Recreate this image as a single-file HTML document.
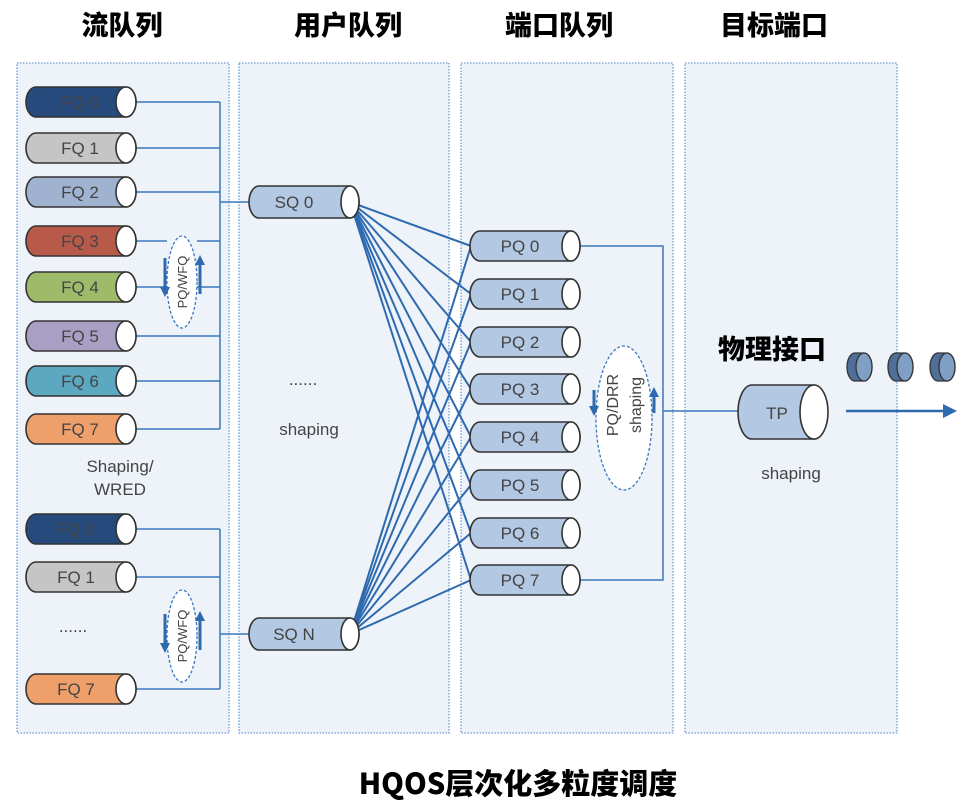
<!DOCTYPE html>
<html><head><meta charset="utf-8"><style>
html,body{margin:0;padding:0;background:#fff;}
svg{display:block;}
text{font-family:"Liberation Sans","Noto Sans CJK SC",sans-serif;}
.t{font-size:17px;fill:#444;text-anchor:middle;}
.h{font-size:27px;font-weight:900;fill:#000;text-anchor:middle;font-family:"Noto Sans CJK SC","WenQuanYi Zen Hei",sans-serif;}
.cy{stroke:#333;stroke-width:1.6;}
.cap{fill:#fff;stroke:#333;stroke-width:1.6;}
.ln{stroke:#3a78bd;stroke-width:1.5;fill:none;}
.bl{stroke:#2f6aae;stroke-width:3;fill:none;}
</style></head><body>
<svg width="980" height="808" viewBox="0 0 980 808" xmlns="http://www.w3.org/2000/svg">
<defs>
<marker id="ar" markerWidth="10" markerHeight="10" refX="7" refY="5" orient="auto" markerUnits="userSpaceOnUse"><path d="M0,0 L10,5 L0,10 Z" fill="#2f6aae"/></marker>
<marker id="ar2" markerWidth="14" markerHeight="14" refX="12" refY="7" orient="auto" markerUnits="userSpaceOnUse"><path d="M0,0 L14,7 L0,14 Z" fill="#2f6aae"/></marker>
</defs>
<text class="h" x="122" y="35">流队列</text>
<text class="h" x="348" y="35">用户队列</text>
<text class="h" x="559" y="35">端口队列</text>
<text class="h" x="774" y="35">目标端口</text>
<g fill="#eef2f9" stroke="#6b9bd0" stroke-width="1.3" stroke-dasharray="1.5,1.5">
<rect x="17" y="63" width="212" height="670"/>
<rect x="239" y="63" width="210" height="670"/>
<rect x="461" y="63" width="212" height="670"/>
<rect x="685" y="63" width="212" height="670"/>
</g>
<g class="ln">
<path d="M126,102H220M126,148H220M126,192H220M126,241H167M197,241H220M126,287H220M126,336H220M126,381H220M126,429H220M220,102V429M220,202H250"/>
<path d="M126,529H220M126,577H220M126,689H220M220,529V689M220,634H250"/>
</g>
<g>
<path class="cy" fill="#274a7d" d="M36,87H126A10,15 0 0 1 126,117H36A10,15 0 0 1 36,87Z"/><ellipse class="cap" cx="126" cy="102" rx="10" ry="15"/><text class="t" x="80" y="108">FQ 0</text>
<path class="cy" fill="#c5c5c5" d="M36,133H126A10,15 0 0 1 126,163H36A10,15 0 0 1 36,133Z"/><ellipse class="cap" cx="126" cy="148" rx="10" ry="15"/><text class="t" x="80" y="154">FQ 1</text>
<path class="cy" fill="#9fb3d1" d="M36,177H126A10,15 0 0 1 126,207H36A10,15 0 0 1 36,177Z"/><ellipse class="cap" cx="126" cy="192" rx="10" ry="15"/><text class="t" x="80" y="198">FQ 2</text>
<path class="cy" fill="#b85a4a" d="M36,226H126A10,15 0 0 1 126,256H36A10,15 0 0 1 36,226Z"/><ellipse class="cap" cx="126" cy="241" rx="10" ry="15"/><text class="t" x="80" y="247">FQ 3</text>
<path class="cy" fill="#9ebb6a" d="M36,272H126A10,15 0 0 1 126,302H36A10,15 0 0 1 36,272Z"/><ellipse class="cap" cx="126" cy="287" rx="10" ry="15"/><text class="t" x="80" y="293">FQ 4</text>
<path class="cy" fill="#a99ec4" d="M36,321H126A10,15 0 0 1 126,351H36A10,15 0 0 1 36,321Z"/><ellipse class="cap" cx="126" cy="336" rx="10" ry="15"/><text class="t" x="80" y="342">FQ 5</text>
<path class="cy" fill="#5ca8c1" d="M36,366H126A10,15 0 0 1 126,396H36A10,15 0 0 1 36,366Z"/><ellipse class="cap" cx="126" cy="381" rx="10" ry="15"/><text class="t" x="80" y="387">FQ 6</text>
<path class="cy" fill="#efa06a" d="M36,414H126A10,15 0 0 1 126,444H36A10,15 0 0 1 36,414Z"/><ellipse class="cap" cx="126" cy="429" rx="10" ry="15"/><text class="t" x="80" y="435">FQ 7</text>
<path class="cy" fill="#274a7d" d="M36,514H126A10,15 0 0 1 126,544H36A10,15 0 0 1 36,514Z"/><ellipse class="cap" cx="126" cy="529" rx="10" ry="15"/><text class="t" x="76" y="535">FQ 0</text>
<path class="cy" fill="#c5c5c5" d="M36,562H126A10,15 0 0 1 126,592H36A10,15 0 0 1 36,562Z"/><ellipse class="cap" cx="126" cy="577" rx="10" ry="15"/><text class="t" x="76" y="583">FQ 1</text>
<path class="cy" fill="#efa06a" d="M36,674H126A10,15 0 0 1 126,704H36A10,15 0 0 1 36,674Z"/><ellipse class="cap" cx="126" cy="689" rx="10" ry="15"/><text class="t" x="76" y="695">FQ 7</text>
</g>
<text class="t" x="120" y="472">Shaping/</text>
<text class="t" x="120" y="495">WRED</text>
<text class="t" x="73" y="632">......</text>
<ellipse cx="182" cy="282" rx="15" ry="46" fill="#fff" stroke="#3a78bd" stroke-width="1.3" stroke-dasharray="3,2"/>
<text transform="translate(187,282) rotate(-90)" style="font-size:13px;fill:#444;text-anchor:middle">PQ/WFQ</text>
<path class="bl" d="M165,258V294" marker-end="url(#ar)"/>
<path class="bl" d="M200,294V258" marker-end="url(#ar)"/>
<ellipse cx="182" cy="636" rx="15" ry="46" fill="#fff" stroke="#3a78bd" stroke-width="1.3" stroke-dasharray="3,2"/>
<text transform="translate(187,636) rotate(-90)" style="font-size:13px;fill:#444;text-anchor:middle">PQ/WFQ</text>
<path class="bl" d="M165,614V650" marker-end="url(#ar)"/>
<path class="bl" d="M200,650V614" marker-end="url(#ar)"/>
<g stroke="#2f6aae" stroke-width="2">
<line x1="350" y1="202" x2="471" y2="246"/><line x1="350" y1="202" x2="471" y2="294"/><line x1="350" y1="202" x2="471" y2="342"/><line x1="350" y1="202" x2="471" y2="389"/><line x1="350" y1="202" x2="471" y2="437"/><line x1="350" y1="202" x2="471" y2="485"/><line x1="350" y1="202" x2="471" y2="533"/><line x1="350" y1="202" x2="471" y2="580"/>
<line x1="350" y1="634" x2="471" y2="246"/><line x1="350" y1="634" x2="471" y2="294"/><line x1="350" y1="634" x2="471" y2="342"/><line x1="350" y1="634" x2="471" y2="389"/><line x1="350" y1="634" x2="471" y2="437"/><line x1="350" y1="634" x2="471" y2="485"/><line x1="350" y1="634" x2="471" y2="533"/><line x1="350" y1="634" x2="471" y2="580"/>
</g>
<path class="cy" fill="#b3c8e3" d="M259,186H350A9,16 0 0 1 350,218H259A10,16 0 0 1 259,186Z"/><ellipse class="cap" cx="350" cy="202" rx="9" ry="16"/><text class="t" x="294" y="208">SQ 0</text>
<path class="cy" fill="#b3c8e3" d="M259,618H350A9,16 0 0 1 350,650H259A10,16 0 0 1 259,618Z"/><ellipse class="cap" cx="350" cy="634" rx="9" ry="16"/><text class="t" x="294" y="640">SQ N</text>
<text class="t" x="303" y="385">......</text>
<text class="t" x="309" y="435">shaping</text>
<g class="ln"><path d="M571,246H663V580H571M663,411H738"/></g>
<g>
<path class="cy" fill="#b3c8e3" d="M480,231H571A9,15 0 0 1 571,261H480A10,15 0 0 1 480,231Z"/><ellipse class="cap" cx="571" cy="246" rx="9" ry="15"/><text class="t" x="520" y="252">PQ 0</text>
<path class="cy" fill="#b3c8e3" d="M480,279H571A9,15 0 0 1 571,309H480A10,15 0 0 1 480,279Z"/><ellipse class="cap" cx="571" cy="294" rx="9" ry="15"/><text class="t" x="520" y="300">PQ 1</text>
<path class="cy" fill="#b3c8e3" d="M480,327H571A9,15 0 0 1 571,357H480A10,15 0 0 1 480,327Z"/><ellipse class="cap" cx="571" cy="342" rx="9" ry="15"/><text class="t" x="520" y="348">PQ 2</text>
<path class="cy" fill="#b3c8e3" d="M480,374H571A9,15 0 0 1 571,404H480A10,15 0 0 1 480,374Z"/><ellipse class="cap" cx="571" cy="389" rx="9" ry="15"/><text class="t" x="520" y="395">PQ 3</text>
<path class="cy" fill="#b3c8e3" d="M480,422H571A9,15 0 0 1 571,452H480A10,15 0 0 1 480,422Z"/><ellipse class="cap" cx="571" cy="437" rx="9" ry="15"/><text class="t" x="520" y="443">PQ 4</text>
<path class="cy" fill="#b3c8e3" d="M480,470H571A9,15 0 0 1 571,500H480A10,15 0 0 1 480,470Z"/><ellipse class="cap" cx="571" cy="485" rx="9" ry="15"/><text class="t" x="520" y="491">PQ 5</text>
<path class="cy" fill="#b3c8e3" d="M480,518H571A9,15 0 0 1 571,548H480A10,15 0 0 1 480,518Z"/><ellipse class="cap" cx="571" cy="533" rx="9" ry="15"/><text class="t" x="520" y="539">PQ 6</text>
<path class="cy" fill="#b3c8e3" d="M480,565H571A9,15 0 0 1 571,595H480A10,15 0 0 1 480,565Z"/><ellipse class="cap" cx="571" cy="580" rx="9" ry="15"/><text class="t" x="520" y="586">PQ 7</text>
</g>
<ellipse cx="624" cy="418" rx="28" ry="72" fill="#fff" stroke="#3a78bd" stroke-width="1.3" stroke-dasharray="3,2"/>
<text transform="translate(618,405) rotate(-90)" style="font-size:16px;fill:#444;text-anchor:middle">PQ/DRR</text>
<text transform="translate(641,405) rotate(-90)" style="font-size:16px;fill:#444;text-anchor:middle">shaping</text>
<path class="bl" d="M594,390V413" marker-end="url(#ar)"/>
<path class="bl" d="M654,413V390" marker-end="url(#ar)"/>
<text class="h" x="772" y="359">物理接口</text>
<path class="cy" fill="#b3c8e3" d="M752,385H814A12,27 0 0 1 814,439H752A14,27 0 0 1 752,385Z"/><ellipse class="cap" cx="814" cy="412" rx="14" ry="27"/><text class="t" x="777" y="419">TP</text>
<text class="t" x="791" y="479">shaping</text>
<path d="M846,411H955" stroke="#2f6aae" stroke-width="2.5" marker-end="url(#ar2)"/>
<g stroke="#333" stroke-width="1.3">
<path fill="#4f6f99" d="M855,353H864A8,14 0 0 1 864,381H855A8,14 0 0 1 855,353Z"/><ellipse fill="#7f9fc4" cx="864" cy="367" rx="8" ry="14"/>
<path fill="#4f6f99" d="M896,353H905A8,14 0 0 1 905,381H896A8,14 0 0 1 896,353Z"/><ellipse fill="#7f9fc4" cx="905" cy="367" rx="8" ry="14"/>
<path fill="#4f6f99" d="M938,353H947A8,14 0 0 1 947,381H938A8,14 0 0 1 938,353Z"/><ellipse fill="#7f9fc4" cx="947" cy="367" rx="8" ry="14"/>
</g>
<text class="h" x="518" y="794" style="font-size:29px">HQOS层次化多粒度调度</text>
</svg>
</body></html>
